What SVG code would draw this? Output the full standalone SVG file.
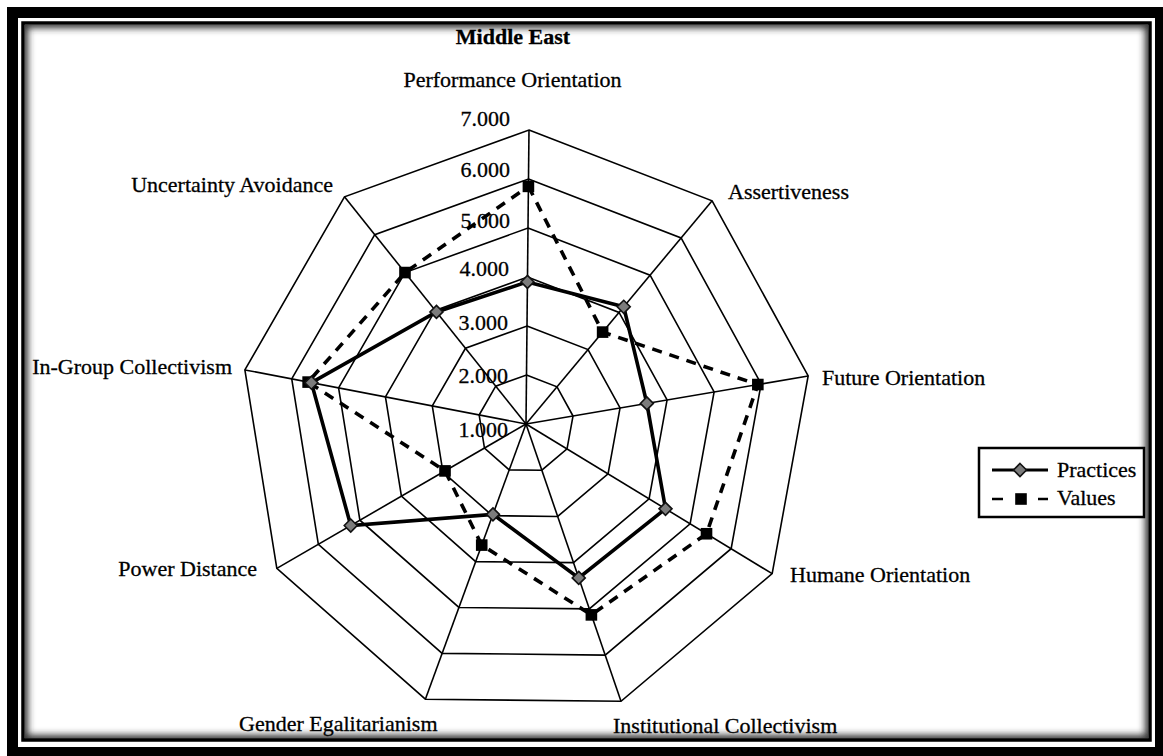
<svg xmlns="http://www.w3.org/2000/svg" xmlns:xlink="http://www.w3.org/1999/xlink" width="1163" height="756" viewBox="0 0 1163 756">
<style>
text{font-family:"Liberation Serif","Times New Roman",serif;font-size:22px;fill:#000;stroke:#000;stroke-width:0.3}
.title{font-weight:bold}
.tick{text-anchor:end}
.grid{fill:none;stroke:#000;stroke-width:1.6;stroke-linejoin:miter}
.spoke{stroke:#000;stroke-width:1.6}
.prac{fill:none;stroke:#000;stroke-width:3.6;stroke-linejoin:miter}
.vals{fill:none;stroke:#000;stroke-width:3.6;stroke-dasharray:10 8}
</style>
<defs>
<g id="dia"><polygon points="0,-6.5 6.5,0 0,6.5 -6.5,0" fill="#7c7c7c" stroke="#111" stroke-width="1.6"/></g>
<rect id="sq" x="-5.8" y="-5.8" width="11.6" height="11.6" fill="#000"/>
<clipPath id="inner"><rect x="24.8" y="24.8" width="1123.4" height="713.9"/></clipPath>
<filter id="blur" x="-5%" y="-5%" width="110%" height="110%"><feGaussianBlur stdDeviation="3.5"/></filter>
</defs>

<g id="frame">
<rect x="0" y="0" width="1163" height="756" fill="#fff"/>
<rect x="7" y="7" width="1156" height="749" fill="#000"/>
<rect x="18" y="18" width="1137" height="729" fill="#fff"/>
<g clip-path="url(#inner)"><rect x="23" y="23" width="1127" height="717" fill="none" stroke="#333" stroke-width="10" filter="url(#blur)"/></g>
<rect x="23" y="23" width="1127" height="717" fill="none" stroke="#000" stroke-width="3.5"/>
</g>

<g id="grid">
<polygon class="grid" points="528.99,130.02 712.12,200.77 808.16,375.98 772.17,573.66 621.00,701.31 425.37,699.20 276.83,568.33 244.88,369.92 344.47,196.82"/>
<polygon class="grid" points="528.50,179.02 681.10,237.97 761.13,383.98 731.14,548.72 605.17,655.09 442.14,653.33 318.36,544.28 291.73,378.93 374.72,234.68"/>
<polygon class="grid" points="528.00,228.01 650.08,275.18 714.11,391.99 690.11,523.77 589.33,608.87 458.91,607.47 359.89,520.22 338.59,387.95 404.98,272.55"/>
<polygon class="grid" points="527.50,277.01 619.06,312.38 667.08,399.99 649.09,498.83 573.50,562.66 475.68,561.60 401.41,496.17 385.44,396.96 435.23,310.41"/>
<polygon class="grid" points="527.00,326.01 588.04,349.59 620.05,407.99 608.06,473.89 557.67,516.44 492.46,515.73 442.94,472.11 432.29,405.97 465.49,348.27"/>
<polygon class="grid" points="526.50,375.00 557.02,386.79 573.03,416.00 567.03,448.94 541.83,470.22 509.23,469.87 484.47,448.06 479.15,414.99 495.74,386.14"/>
<g class="spoke">
<line x1="526" y1="424" x2="528.99" y2="130.02"/>
<line x1="526" y1="424" x2="712.12" y2="200.77"/>
<line x1="526" y1="424" x2="808.16" y2="375.98"/>
<line x1="526" y1="424" x2="772.17" y2="573.66"/>
<line x1="526" y1="424" x2="621.00" y2="701.31"/>
<line x1="526" y1="424" x2="425.37" y2="699.20"/>
<line x1="526" y1="424" x2="276.83" y2="568.33"/>
<line x1="526" y1="424" x2="244.88" y2="369.92"/>
<line x1="526" y1="424" x2="344.47" y2="196.82"/>
</g>
</g>

<g id="ticks">
<text class="tick" x="510" y="126">7.000</text>
<text class="tick" x="510" y="177">6.000</text>
<text class="tick" x="510" y="228">5.000</text>
<text class="tick" x="509" y="276">4.000</text>
<text class="tick" x="508" y="330">3.000</text>
<text class="tick" x="508" y="383">2.000</text>
<text class="tick" x="508" y="437">1.000</text>
</g>

<g id="series-values">
<polygon class="vals" points="528.42,186.37 602.62,332.10 757.84,384.54 706.52,533.75 591.39,614.88 481.72,545.09 445.02,470.91 308.13,382.09 404.98,272.55"/>
<use xlink:href="#sq" x="528.42" y="186.37"/>
<use xlink:href="#sq" x="602.62" y="332.10"/>
<use xlink:href="#sq" x="757.84" y="384.54"/>
<use xlink:href="#sq" x="706.52" y="533.75"/>
<use xlink:href="#sq" x="591.39" y="614.88"/>
<use xlink:href="#sq" x="481.72" y="545.09"/>
<use xlink:href="#sq" x="445.02" y="470.91"/>
<use xlink:href="#sq" x="308.13" y="382.09"/>
<use xlink:href="#sq" x="404.98" y="272.55"/>
</g>

<g id="series-practices">
<polygon class="prac" points="527.45,281.91 623.71,306.80 646.86,403.43 665.50,508.81 578.73,577.91 492.96,514.36 350.75,525.51 311.41,382.72 436.45,311.92"/>
<use xlink:href="#dia" x="527.45" y="281.91"/>
<use xlink:href="#dia" x="623.71" y="306.80"/>
<use xlink:href="#dia" x="646.86" y="403.43"/>
<use xlink:href="#dia" x="665.50" y="508.81"/>
<use xlink:href="#dia" x="578.73" y="577.91"/>
<use xlink:href="#dia" x="492.96" y="514.36"/>
<use xlink:href="#dia" x="350.75" y="525.51"/>
<use xlink:href="#dia" x="311.41" y="382.72"/>
<use xlink:href="#dia" x="436.45" y="311.92"/>
</g>

<g id="title"><text class="title" x="513" y="44" text-anchor="middle">Middle East</text></g>
<g id="label-performance"><text x="512.5" y="87" text-anchor="middle">Performance Orientation</text></g>
<g id="label-assertiveness"><text x="728" y="199">Assertiveness</text></g>
<g id="label-future"><text x="822" y="385">Future Orientation</text></g>
<g id="label-humane"><text x="790" y="582">Humane Orientation</text></g>
<g id="label-institutional"><text x="613" y="733">Institutional Collectivism</text></g>
<g id="label-gender"><text x="239" y="731">Gender Egalitarianism</text></g>
<g id="label-power"><text x="257" y="576" text-anchor="end">Power Distance</text></g>
<g id="label-ingroup"><text x="232" y="374" text-anchor="end">In-Group Collectivism</text></g>
<g id="label-uncertainty"><text x="333" y="192" text-anchor="end">Uncertainty Avoidance</text></g>

<g id="legend">
<rect x="979" y="448" width="165" height="69" fill="#fff" stroke="#000" stroke-width="2.5"/>
<line x1="992" y1="470" x2="1048" y2="470" stroke="#000" stroke-width="3"/>
<use xlink:href="#dia" x="1020" y="470"/>
<line x1="992" y1="499" x2="1003" y2="499" stroke="#000" stroke-width="2.5"/>
<use xlink:href="#sq" x="1021" y="499"/>
<line x1="1038" y1="499" x2="1048" y2="499" stroke="#000" stroke-width="2.5"/>
<text x="1057" y="477">Practices</text>
<text x="1057" y="505">Values</text>
</g>
</svg>
